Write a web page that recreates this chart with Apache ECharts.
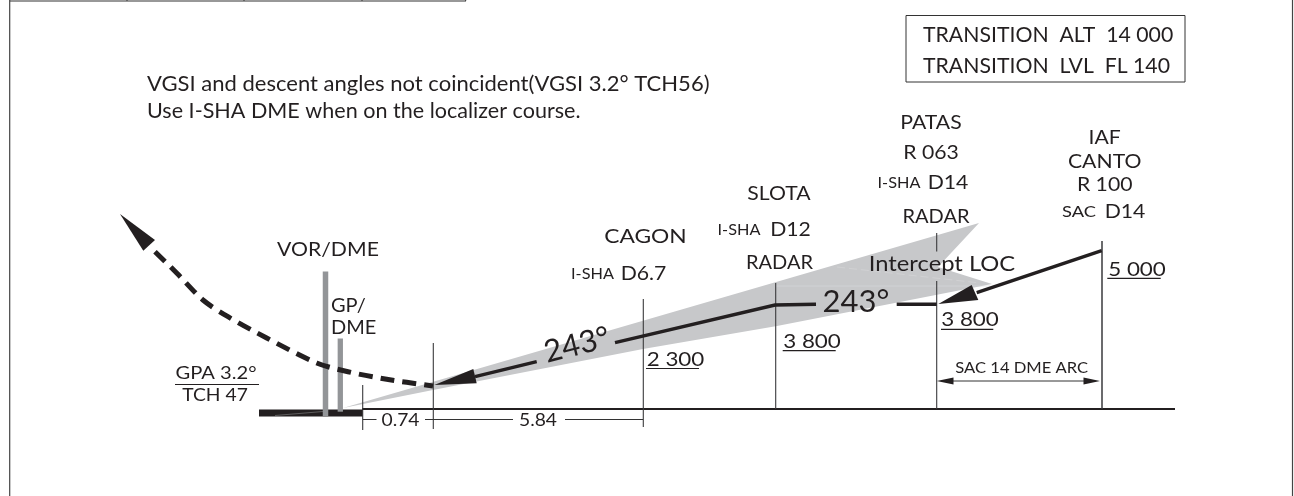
<!DOCTYPE html>
<html>
<head>
<meta charset="utf-8">
<style>html,body{margin:0;padding:0;background:#fff}#c{width:1294px;height:496px}</style>
<script src="https://cdn.jsdelivr.net/npm/echarts@6/dist/echarts.min.js"></script>
</head>
<body>
<div id="c"></div>
<script>
// All geometry is given in drawing units of the schematic profile view
const baseline = [[362,409],[1175,409]];
const runway = [[259,413],[362.5,413]];
const vorBar = [[325.5,271.5],[325.5,416]];
const gpBar = [[340.3,338.5],[340.3,411.7]];

const frameLeft = [[9.7,0],[9.7,496]];
const frameRight = [[1292.5,0],[1292.5,496]];
const stripBottom = [[10,1],[466,1]];
const stripTicks = [127,244,362,465.7];
const infoBox = [[906,15.5],[1185,15.5],[1185,82],[906,82],[906,15.5]];

const fixVerticals = [
  [[362.7,385],[362.7,430]],
  [[433.3,343],[433.3,429]],
  [[643.3,299],[643.3,427]],
  [[775.7,283],[775.7,409]],
  [[936.7,233],[936.7,251.5]],
  [[936.7,281],[936.7,409]],
  [[1102,241],[1102,409]]
];
const dimensionLines = [
  [[363,419.5],[376.5,419.5]],
  [[425,419.5],[513,419.5]],
  [[565,419.5],[643,419.5]]
];
const altitudeUnderlines = [
  [[175,384.5],[259,384.5]],
  [[646,368.5],[699,368.5]],
  [[782.7,350.7],[835.7,350.7]],
  [[941,329.3],[993.3,329.3]],
  [[1107.3,278.3],[1160.7,278.3]]
];
const arcDimension = [[945,381],[1092,381]];

const approachTracks = [
  [[475,376.7],[536.7,361.7]],
  [[615,342.7],[775,305],[816,304.3]],
  [[896.7,304.3],[936.7,304.3]],
  [[1101.7,250.7],[976.7,292.7]]
];
const missedApproach = [[155,251.7],[176.7,273],[203,300],[228,316.7],[266.7,338],[316.7,363],[348,371.7],[386.7,379.3],[433,386]];

const protectionArea = [[343,408],[979,223],[938,267],[992,284],[777,326],[643,349],[433,390]];
const areaSeams = [[[776,286],[990,286]]];
const areaDashedSeam = [[837,267],[980,283]];
const runwaySliver = [[275,415.5],[323,411.5]];
const arrowheads = [
  [[120,214],[155,240],[143.3,250.7]],
  [[434.3,385],[473.3,369],[476.7,383.3]],
  [[938.3,304],[971.7,285],[978.3,300]],
  [[936.7,381],[953.5,377.5],[953.5,384.5]],
  [[1100,381],[1083.5,377.5],[1083.5,384.5]]
];

const textStrings = [
  'VGSI and descent angles not coincident(VGSI 3.2° TCH56)',
  'Use I-SHA DME when on the localizer course.',
  'TRANSITION  ALT  14 000','TRANSITION  LVL  FL 140',
  'VOR/DME','GP/','DME','GPA 3.2°','TCH 47','0.74','5.84',
  'CAGON','I-SHA','D6.7','2 300',
  'SLOTA','I-SHA','D12','RADAR','3 800',
  'PATAS','R 063','I-SHA','D14','RADAR','3 800',
  'IAF','CANTO','R 100','SAC','D14','5 000',
  'Intercept LOC','SAC 14 DME ARC','243°','243°'
];
const textAnchors = [
  [147,84],[147,111],
  [923,35],[923,66],
  [328,250],[331,306],[331,328],[216,373],[215,395],[400.5,420.5],[538,420.5],
  [645.5,237],[592.5,274],[643.5,274],[675.5,360],
  [779,194],[739,230],[790.5,230],[779.5,262.5],[812,341.5],
  [931,122.5],[931,152.5],[899,182.5],[948,182.5],[936,216.5],[970,320],
  [1104.7,137.5],[1104.7,161.5],[1104.7,185],[1079,211.5],[1125,211.5],[1137,269.5],
  [942,263.5],[1021.7,367.5],[577,345],[856,301.5]
];
const textKinds = [
  'note','noteB','box','box',
  'name','nameL','nameL','gpa','dim','dim','dim',
  'wide','small','name','alt',
  'name','small','name','plain','alt',
  'name','name','small','name','plain','alt',
  'name','name','name','smallWide','name','alt',
  'big','arc','heading','heading'
];
const textTilts = [0,0,0,0,0,0,0,0,0,0,0,0,0,0,0,0,0,0,0,0,0,0,0,0,0,0,0,0,0,0,0,0,0,0,14,0];

const INK = '#231f20';
const FONT = 'Lato, "Open Sans", sans-serif';
const KIND_STYLE = {
  note:{size:20.5,align:'left',stretch:1.074}, noteB:{size:20.5,align:'left',stretch:1.052},
  box:{size:20.5,align:'left',stretch:1.036},
  name:{size:20,align:'center',stretch:1.06}, plain:{size:20,align:'center',stretch:1},
  wide:{size:20,align:'center',stretch:1.14}, alt:{size:20,align:'center',stretch:1.12},
  nameL:{size:20,align:'left',stretch:1},
  small:{size:15.5,align:'center',stretch:1.05}, smallWide:{size:15.5,align:'center',stretch:1.18},
  gpa:{size:18,align:'center',stretch:1.12}, dim:{size:18,align:'center',stretch:1.07},
  arc:{size:15.5,align:'center',stretch:1.07}, big:{size:22,align:'center',stretch:1.08},
  heading:{size:31,align:'center',stretch:1}
};

function lineSeries(points, width, color, extra){
  return {type:'line',data:points,symbol:'none',silent:true,z:2,
    lineStyle:Object.assign({width:width,color:color,cap:'butt',join:'miter'},extra||{})};
}
function polygonSeries(list, color, z){
  return {type:'custom',silent:true,z:z,coordinateSystem:'cartesian2d',
    data:list.map(function(_,i){return [i];}),
    encode:{x:0,y:0},clip:false,
    renderItem:function(params,api){
      var pts=list[api.value(0)].map(function(p){return api.coord(p);});
      return {type:'polygon',shape:{points:pts},style:{fill:color}};
    }};
}

var series=[];
series.push(polygonSeries([protectionArea],'#c7c8ca',1));
areaSeams.forEach(function(v){series.push(lineSeries(v,0.6,'#d9dadc'));});
series.push(lineSeries(areaDashedSeam,0.6,'#d6d7d9',{type:[8,4]}));
series.push(lineSeries(baseline,2,INK));
series.push(lineSeries(frameLeft,1.2,'#444'));
series.push(lineSeries(frameRight,1.2,'#444'));
series.push(lineSeries(stripBottom,1.2,'#333'));
stripTicks.forEach(function(x){series.push(lineSeries([[x,0],[x,1]],1,'#333'));});
series.push(lineSeries(infoBox,1,'#333'));
fixVerticals.forEach(function(v,i){series.push(lineSeries(v,i===6?1.5:1.1,'#3a3a3c'));});
dimensionLines.forEach(function(v){series.push(lineSeries(v,1,'#333'));});
altitudeUnderlines.forEach(function(v){series.push(lineSeries(v,1.2,INK));});
series.push(lineSeries(arcDimension,1,'#333'));
series.push(lineSeries(runway,7,INK));
series.push(lineSeries(runwaySliver,0.7,'#777'));
series.push(lineSeries(vorBar,5.5,'#939598'));
series.push(lineSeries(gpBar,5.3,'#939598'));
approachTracks.forEach(function(v){series.push(lineSeries(v,3.4,INK));});
series.push(Object.assign(lineSeries(missedApproach,5,INK,{type:[14,8]}),{smooth:0.3}));
series.push(polygonSeries(arrowheads,INK,3));
series.push({type:'custom',silent:true,z:4,coordinateSystem:'cartesian2d',clip:false,
  data:textStrings.map(function(_,i){return [i];}),encode:{x:0,y:0},
  renderItem:function(params,api){
    var i=api.value(0),p=api.coord(textAnchors[i]),k=KIND_STYLE[textKinds[i]];
    return {type:'text',x:p[0],y:p[1],rotation:textTilts[i]*Math.PI/180,scaleX:k.stretch,
      style:{text:textStrings[i],fill:INK,font:k.size+'px '+FONT,
        textAlign:k.align,textVerticalAlign:'middle',verticalAlign:'middle'}};
  }});

var chart=echarts.init(document.getElementById('c'));
chart.setOption({
  animation:false,
  backgroundColor:'#fff',
  grid:{left:0,right:0,top:0,bottom:0},
  xAxis:{type:'value',min:0,max:1294,show:false},
  yAxis:{type:'value',min:0,max:496,inverse:true,show:false},
  series:series
});
</script>
</body>
</html>
